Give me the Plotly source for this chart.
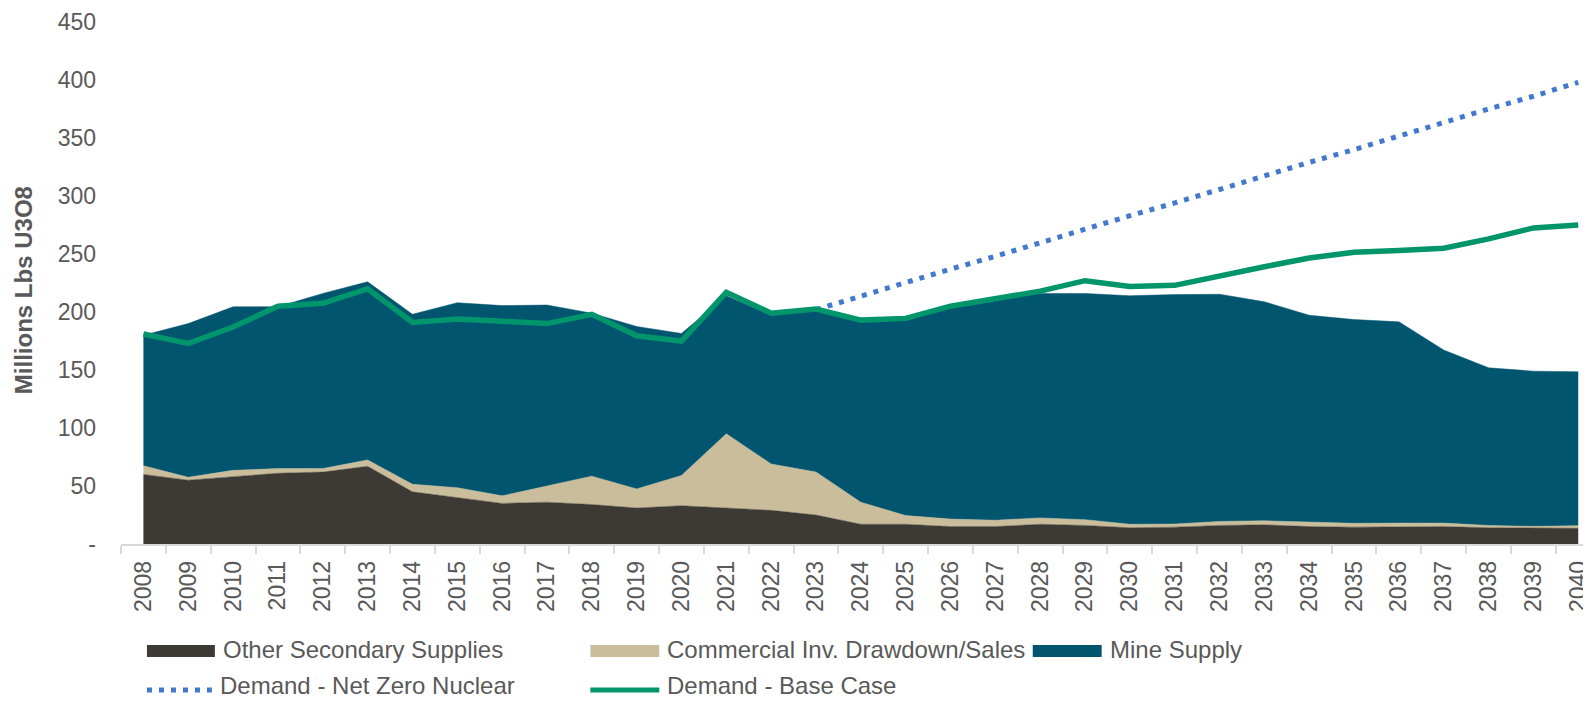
import plotly.graph_objects as go

years = [str(y) for y in range(2008, 2041)]

other_secondary = [60, 55, 58, 61, 62, 67, 45, 40, 35, 36, 34, 31, 33, 31, 29, 25, 17,
                   17, 15, 15, 17, 16, 14, 14.5, 16, 16.5, 15, 14.5, 15, 15, 14, 13.5, 13.5]
commercial_inv = [7.5, 2.5, 5.5, 4, 3, 5.5, 6.5, 8.5, 6.5, 14, 24.5, 16.5, 26, 64, 40, 37, 19,
                  7.5, 6.5, 5.5, 5.5, 5, 3, 2.7, 3.5, 3.5, 3.6, 3.3, 3, 3, 2, 1.7, 2.3]
mine_supply = [112.5, 132.5, 141, 139.5, 151, 153.5, 146.5, 159.5, 164, 156, 140.5, 140, 122.5,
               119, 128, 140, 156, 168.5, 183.5, 189.5, 193.5, 195, 197, 197.8, 195.8, 188.8,
               178.6, 175.7, 173.5, 149.2, 135.9, 133.8, 132.7]

nz_years = [str(y) for y in range(2023, 2041)]
demand_net_zero = [202, 214, 225, 237, 248, 260, 271, 283, 294, 306, 317, 329, 340, 352,
                   363, 375, 386, 398]

demand_base = [181, 173, 187, 205, 207.5, 220, 191, 194, 192, 190, 198, 179.5, 175, 217,
               199, 202.5, 193, 194.5, 205, 211, 218, 227, 222, 223, 231.5, 239, 246.5,
               251.5, 253, 255, 263, 272.5, 275]

y_ticks = [0, 50, 100, 150, 200, 250, 300, 350, 400, 450]
y_ticktext = ["-", "50", "100", "150", "200", "250", "300", "350", "400", "450"]

C_OTHER = "#3d3934"
C_COMM = "#c9bd9b"
C_MINE = "#02556f"
C_NZ = "#4279cd"
C_BASE = "#00956a"
TXT = "#595959"
FONT = "Liberation Sans, Arial, sans-serif"

fig = go.Figure()
for name, vals, col in [("Other Secondary Supplies", other_secondary, C_OTHER),
                        ("Commercial Inv. Drawdown/Sales", commercial_inv, C_COMM),
                        ("Mine Supply", mine_supply, C_MINE)]:
    fig.add_trace(go.Scatter(x=years, y=vals, name=name, stackgroup="supply", mode="lines",
                             line=dict(color=col, width=0.5), fillcolor=col))

fig.add_trace(go.Scatter(x=nz_years, y=demand_net_zero, name="Demand - Net Zero Nuclear",
                         mode="lines", line=dict(color=C_NZ, width=5, dash="5px,7px")))
fig.add_trace(go.Scatter(x=years, y=demand_base, name="Demand - Base Case",
                         mode="lines", line=dict(color=C_BASE, width=5.5)))

# page geometry: the browser body has an 8px default margin, so the figure is
# drawn 8px smaller and all target pixel positions are shifted by that offset
OFF = 8
PAGE_W, PAGE_H = 1591, 702
W, H = PAGE_W - OFF, PAGE_H - OFF
L, R, T, B = 121 - OFF, 1591 - OFF, 22 - OFF, 544 - OFF

def px(x):
    return (x - OFF - L) / (R - L)

def py(y):
    return (B - (y - OFF)) / (B - T)

fig.update_layout(
    width=W, height=H,
    margin=dict(l=L, r=W - R, t=T, b=H - B, pad=0),
    plot_bgcolor="white", paper_bgcolor="white",
    showlegend=False,
    font=dict(family=FONT, color=TXT, size=23),
    xaxis=dict(type="category", range=[-0.5, 32.24], tickson="boundaries",
               ticks="outside", ticklen=8, tickcolor="#d9d9d9", tickwidth=1.5,
               showline=True, linecolor="#d9d9d9", linewidth=1.5, showgrid=False,
               tickangle=-90, tickfont=dict(size=23, color=TXT, family=FONT),
               ticklabelstandoff=6),
    yaxis=dict(range=[0, 450], tickvals=y_ticks, ticktext=y_ticktext, showgrid=False,
               zeroline=False, showline=False, ticks="",
               tickfont=dict(size=23, color=TXT, family=FONT), ticklabelstandoff=24),
)

fig.add_annotation(xref="paper", yref="paper", x=px(23), y=py(290),
                   text="<b>Millions Lbs U3O8</b>", textangle=-90, showarrow=False,
                   font=dict(size=24, color=TXT, family=FONT), xanchor="center", yanchor="middle")

# custom legend
legend_items = [
    ("Other Secondary Supplies", "box", C_OTHER, 147, 215, 651, 649),
    ("Commercial Inv. Drawdown/Sales", "box", C_COMM, 591, 660, 651, 649),
    ("Mine Supply", "box", C_MINE, 1034, 1103, 651, 649),
    ("Demand - Net Zero Nuclear", "dot", C_NZ, 147, 212, 690, 685),
    ("Demand - Base Case", "line", C_BASE, 591, 660, 690, 685),
]
for label, kind, col, x0, x1, yc, ty in legend_items:
    if kind == "box":
        fig.add_shape(type="rect", xref="paper", yref="paper", x0=px(x0), x1=px(x1),
                      y0=py(yc + 6), y1=py(yc - 6), fillcolor=col, line=dict(width=0))
    elif kind == "line":
        fig.add_shape(type="line", xref="paper", yref="paper", x0=px(x0), x1=px(x1),
                      y0=py(yc), y1=py(yc), line=dict(color=col, width=5))
    else:
        fig.add_shape(type="line", xref="paper", yref="paper", x0=px(x0), x1=px(x1),
                      y0=py(yc), y1=py(yc), line=dict(color=col, width=5, dash="5px,7px"))
    fig.add_annotation(xref="paper", yref="paper", x=px(x1 + 6), y=py(ty), text=label,
                       showarrow=False, xanchor="left", yanchor="middle",
                       font=dict(size=24, color=TXT, family=FONT))

fig.write_html("out.html")
